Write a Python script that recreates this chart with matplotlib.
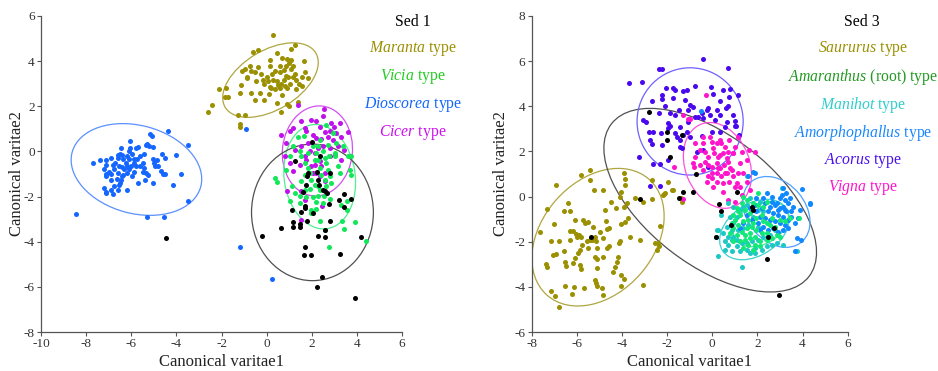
import numpy as np
import matplotlib
matplotlib.use("Agg")
import matplotlib.pyplot as plt
from matplotlib.patches import Ellipse

plt.rcParams['font.family'] = ['Liberation Serif', 'DejaVu Serif']
plt.rcParams['mathtext.fontset'] = 'custom'
plt.rcParams['mathtext.it'] = 'Liberation Serif:italic'
plt.rcParams['mathtext.rm'] = 'Liberation Serif'
plt.rcParams['axes.unicode_minus'] = False

# ---------------- Sed 1 data ----------------
maranta_pts = [(0.28,5.15),(-2.6,1.75),(-2.4,2.05),(-2.1,2.75),(-1.85,2.4),(-1.7,2.4),(-1.8,2.8),(-1.25,1.6),
 (-1.2,1.2),(-1.2,1.1),(-0.95,1.6),(-1.2,2.6),(-1.15,2.95),(-1.1,3.55),(-0.95,3.65),(-0.85,3.25),(-0.75,3.8),
 (-0.6,4.4),(-0.4,4.5),(-0.5,3.5),(-0.45,3.1),(-0.7,2.6),(-0.5,2.3),(-0.3,2.6),(-0.1,2.3),(0,3.3),(-0.15,3.15),
 (-0.1,3.0),(0.05,3.1),(0.15,2.85),(0.15,3.8),(0.2,2.8),(0.25,3.45),(0.35,3.55),(0.45,4.35),(0.45,3.1),(0.5,2.95),
 (0.45,2.15),(0.6,3.5),(0.6,2.8),(0.65,3.0),(0.7,4.15),(0.75,3.6),(0.8,2.9),(0.85,3.8),(0.9,2.1),(0.9,2.8),
 (0.95,3.3),(1.0,3.9),(1.05,3.0),(1.1,4.55),(1.1,3.65),(1.15,3.8),(1.25,4.7),(1.25,3.45),(1.3,3.15),(1.3,2.75),
 (1.4,2.2),(1.0,2.0),(0.65,1.75),(1.45,3.0),(1.55,3.3),(1.65,4.0),(1.7,3.5),(1.85,3.25),(1.55,2.9),(0.6,3.8),
 (0.85,3.35),(0.35,2.75),(0.1,2.55),(-0.25,3.45),(-0.4,3.75),(-0.7,3.55),(-0.85,3.3),(0.15,4.05),(0.3,3.15),
 (0.75,3.15),(0.9,4.1),(1.1,4.05),(0.7,2.5),(1.15,3.3)]

dioscorea_pts = [(-7.7,-0.5),(-7.4,-0.4),(-7.1,-0.4),(-6.9,-0.3),(-7.1,-0.6),(-7.2,-0.8),(-7.1,-1.0),(-7.1,-1.1),
 (-7.0,-0.9),(-6.9,-1.0),(-6.8,-0.6),(-6.7,-0.5),(-6.6,-0.15),(-6.5,-0.1),(-6.45,0.15),(-6.4,-0.15),(-6.35,-0.35),
 (-6.25,-0.5),(-6.2,-0.2),(-6.1,0.0),(-6.05,0.45),(-6.05,0.15),(-5.95,-0.1),(-5.9,-0.35),(-6.0,-0.65),(-6.1,-0.8),
 (-6.2,-0.95),(-6.35,-1.05),(-6.45,-1.25),(-6.5,-1.4),(-6.55,-1.5),(-6.75,-1.55),(-6.8,-1.9),(-6.9,-1.7),(-7.1,-1.8),
 (-7.2,-1.6),(-7.1,-1.85),(-6.2,-1.7),(-6.6,-0.95),(-6.65,-1.2),(-6.4,-0.7),(-6.3,-0.8),(-6.2,-0.65),(-5.7,0.2),
 (-5.6,-0.2),(-5.5,-0.5),(-5.6,-0.65),(-5.45,-0.1),(-5.35,0.3),(-5.3,0.35),(-5.2,0.25),(-5.15,0.75),(-5.1,0.7),
 (-5.05,0.2),(-5.05,-0.35),(-5.0,-0.5),(-4.95,-0.65),(-4.85,-0.4),(-4.8,-0.65),(-4.7,-0.85),(-4.65,-0.1),(-4.6,-1.0),
 (-4.5,-0.3),(-4.5,-1.0),(-4.35,0.9),(-4.15,-1.5),(-4.0,-0.15),(-3.8,-1.0),(-3.5,0.3),(-3.5,-2.2),(-5.3,-2.9),
 (-4.55,-2.9),(-8.45,-2.75),(-5.7,-1.4),(-5.4,-1.25),(-5.05,-1.4),(-5.25,-1.05),(-5.5,-0.9),(-5.8,-0.65),(-5.9,-0.9),
 (-5.95,-1.1),(-5.75,-0.35),(-6.75,-0.8),(-6.9,-1.25),(-6.6,-1.7),(-6.4,-1.1),(-5.8,0.15),(-5.45,-0.75),(-5.35,-0.95),
 (-6.6,-0.3),(-6.55,-0.65),(-6.1,-0.35),(-5.9,-0.5),(-1.2,-4.25),(0.25,-5.65),(-0.9,1.0)]

cicer_pts = [(1.4,2.05),(2.54,1.89),(1.53,1.33),(1.68,1.03),(0.65,0.74),(1.17,1.03),(2.17,1.33),(2.35,1.1),(2.49,1.55),
 (2.57,0.84),(2.86,1.25),(2.98,1.06),(3.08,0.81),(3.28,0.66),(3.6,0.88),(2.05,0.74),(2.2,0.59),(2.42,0.55),(2.72,0.66),
 (1.83,0.37),(1.53,0.22),(0.87,0.37),(1.24,0.07),(0.8,-0.22),(1.02,-0.52),(1.17,-0.88),(1.46,-0.59),(1.68,-0.22),
 (1.9,0.0),(2.13,-0.07),(2.27,0.15),(2.49,0.22),(2.79,0.15),(3.16,0.22),(3.45,0.07),(3.68,-0.22),(3.01,-0.15),
 (3.31,-0.37),(2.35,-0.44),(2.13,-0.59),(2.42,-0.66),(1.95,-0.66),(2.2,-0.96),(2.57,-0.96),(2.79,-0.22),(1.53,-1.77),
 (0.9,-1.77),(1.68,-2.14),(2.47,-2.43),(1.53,-3.02),(1.76,-0.37),(2.05,-0.96),(2.57,-1.33),(2.35,-1.1),(2.79,0.89),
 (2.94,0.52),(1.98,1.4),(1.76,0.89),(3.23,1.25),(1.02,0.89)]

vicia_pts = [(1.12,-1.55),(1.68,-1.7),(1.9,-1.65),(2.27,-1.55),(2.64,-1.55),(1.46,-1.99),(1.76,-2.04),(2.05,-2.04),
 (2.27,-1.99),(2.54,-1.99),(2.82,-2.1),(2.2,-2.24),(2.49,-2.29),(3.57,-2.21),(3.31,-2.36),(3.56,-2.58),(2.17,-2.54),
 (1.95,-2.73),(2.35,-3.1),(3.35,-3.1),(3.9,-3.14),(2.6,-3.47),(3.45,-3.42),(2.76,-4.22),(4.42,-3.99),(0.35,-1.18),
 (0.46,-1.37),(0.87,-0.81),(1.02,-0.22),(1.17,0.22),(1.39,0.66),(1.64,0.69),(1.46,0.0),(1.53,-0.22),(1.68,-0.52),
 (1.83,-0.74),(1.9,-0.96),(1.98,-1.25),(2.13,-0.37),(2.2,-0.07),(2.27,0.22),(2.35,0.52),(2.49,0.0),(2.57,-0.29),
 (2.64,-0.52),(2.72,-0.81),(2.79,-1.1),(2.86,-1.4),(2.64,1.18),(2.94,0.81),(3.08,0.37),(3.01,-0.22),(3.16,-0.66),
 (3.23,-0.96),(3.38,0.22),(3.6,-0.22),(3.75,-0.22),(3.75,-1.03),(3.68,-0.81),(1.68,-1.03),(1.53,-1.33),(2.35,-0.74),
 (2.42,-1.03),(2.57,-1.25),(2.13,-1.48),(2.35,-1.7),(1.46,-2.29),(1.98,-2.58),(1.02,-2.21),(1.24,-1.84),(3.05,-0.07),
 (2.72,0.29),(2.05,0.22),(1.83,-0.07),(2.27,-0.37),(2.76,-0.22)]

unknown1_pts = [(1.76,-1.48),(1.61,-1.8),(2.57,-1.77),(2.69,-1.84),(3.19,-2.14),(3.45,-1.89),(3.72,-2.11),(3.42,-2.48),
 (1.12,-2.61),(1.53,-2.7),(1.68,-2.43),(1.68,-2.51),(2.05,-2.74),(2.75,-2.33),(2.83,-3.1),(2.6,-3.5),(1.17,-3.14),
 (1.17,-3.33),(1.46,-3.22),(1.46,-3.33),(1.8,-3.08),(0.65,-3.39),(-0.19,-3.76),(2.27,-3.76),(2.6,-3.81),(4.16,-3.81),
 (1.68,-4.25),(1.64,-4.59),(1.95,-4.6),(3.23,-4.53),(2.45,-5.56),(2.23,-6.02),(3.9,-6.51),(1.24,-0.44),(2.01,0.4),
 (1.83,-0.96),(1.79,-1.1),(2.24,-0.91),(2.27,-1.25),(2.32,-1.48),(2.49,-1.73),(2.79,-0.96),(2.35,-0.22),(-4.47,-3.82)]

# ellipses: (cx, cy, width, height, angle)
sed1_ellipses = {
    'maranta': (0.17, 3.16, 4.68, 2.63, 31),
    'dioscorea': (-5.77, -0.8, 5.9, 3.9, -15),
    'cicer': (2.25, 0.02, 3.1, 4.0, -6),
    'vicia': (2.35, -1.12, 3.15, 4.65, 8),
    'unknown': (2.03, -2.7, 5.4, 6.05, 0),
}

# ---------------- Sed 3 data ----------------
saururus_pts = [(-6.93,0.52),(-5.82,0.96),(-5.42,1.18),(-5.42,0.74),(-4.83,0.3),(-5.24,0.3),(-3.91,1.03),(-3.87,0.77),
 (-3.87,0.52),(-4.02,0.22),(-7.34,-0.56),(-6.56,-0.62),(-6.39,-0.3),(-6.31,-0.62),(-7.0,-1.21),(-7.64,-1.55),
 (-7.16,-1.96),(-6.78,-1.99),(-7.07,-2.58),(-6.9,-2.55),(-7.37,-2.98),(-7.31,-3.13),(-7.16,-4.2),(-6.97,-4.4),
 (-6.78,-4.87),(-6.57,-2.39),(-6.53,-2.88),(-6.49,-3.07),(-6.31,-1.92),(-6.28,-1.52),(-6.16,-1.52),(-6.04,-1.67),
 (-6.01,-1.8),(-5.89,-1.7),(-5.83,-1.8),(-6.08,-1.03),(-5.71,-1.03),(-5.64,-1.18),(-5.49,-1.11),(-5.79,-2.14),
 (-5.86,-2.36),(-5.94,-2.51),(-6.08,-2.73),(-6.16,-2.95),(-5.86,-3.02),(-5.82,-3.22),(-5.49,-2.29),(-5.57,-1.99),
 (-5.42,-1.92),(-5.32,-1.92),(-5.2,-1.77),(-5.3,-1.33),(-4.98,-1.59),(-4.83,-1.84),(-5.15,-1.99),(-5.12,-2.29),
 (-5.2,-2.66),(-5.12,-2.77),(-4.86,-2.66),(-5.09,-3.17),(-5.2,-3.69),(-5.15,-3.81),(-5.12,-3.98),(-4.9,-4.03),
 (-4.83,-4.35),(-5.69,-4.03),(-6.11,-4.01),(-6.51,-3.98),(-6.23,-4.32),(-4.71,-1.08),(-4.65,-1.45),(-4.56,-1.4),
 (-4.5,-0.22),(-4.75,-0.59),(-4.27,-0.52),(-4.09,-0.04),(-3.79,-0.3),(-3.91,-0.44),(-3.72,-0.96),(-3.87,-1.11),
 (-4.05,-1.21),(-3.65,-1.77),(-4.09,-1.99),(-4.12,-2.07),(-4.56,-2.18),(-4.68,-2.29),(-4.19,-2.69),(-4.2,-2.91),
 (-4.31,-3.13),(-4.39,-3.32),(-4.02,-3.47),(-3.9,-3.64),(-4.02,-3.98),(-3.06,-3.91),(-3.2,-1.92),(-3.43,-0.07),
 (-3.06,-0.22),(-2.69,-0.12),(-2.32,-1.3),(-2.54,-2.07),(-2.44,-2.36),(-2.17,0.07),(-2.1,0.18),(-1.8,0.3),
 (-2.69,0.74),(-2.13,0.1),(-1.95,0.66),(-1.76,0.3),(-1.36,-0.22),(-1.39,-0.07),(-2.42,-2.07),(-2.35,-2.21)]

acorus_pts = [(-3.68,5.05),(-3.1,5.09),(-2.35,5.65),(-2.24,5.63),(-0.43,6.08),(0.71,5.71),(-2.69,4.25),(-2.24,4.5),
 (-2.22,4.32),(-2.05,4.79),(-1.73,4.79),(-1.65,4.72),(-1.31,4.69),(-1.14,4.72),(-0.75,4.9),(-0.07,4.87),(0.04,4.54),
 (0.49,4.72),(0.78,4.75),(1.15,4.5),(0.75,4.43),(0.34,4.25),(0.71,4.01),(-1.73,4.35),(-2.1,4.01),(-1.21,4.28),
 (-0.99,4.06),(-1.06,3.84),(-0.84,3.98),(-1.46,3.84),(-1.65,3.61),(-1.88,3.69),(-2.35,3.69),(-3.06,3.39),(-2.94,3.32),
 (-2.81,2.88),(-2.64,2.85),(-2.76,2.51),(-2.29,2.8),(-1.95,3.27),(-1.88,3.13),(-1.95,3.02),(-1.65,2.8),(-1.58,2.66),
 (-1.28,2.73),(-1.14,2.88),(-0.99,2.66),(-1.43,2.51),(-1.43,3.1),(-0.62,3.54),(-0.47,3.69),(-0.4,3.47),(-0.25,3.84),
 (-0.1,3.61),(-0.18,3.91),(0.19,3.84),(0.34,3.61),(0.12,3.39),(0.64,3.32),(0.93,3.61),(1.0,3.36),(0.56,3.1),
 (0.34,2.88),(-0.03,2.88),(-0.44,2.68),(1.0,3.13),(1.05,3.14),(1.2,2.73),(0.61,3.91),(-1.06,3.32),(-0.77,3.54),
 (-1.43,2.21),(-1.36,2.14),(-2.24,2.29),(-2.69,2.33),(-3.25,1.77),(-2.64,1.43),(-2.32,1.43),(-1.95,1.62),(-0.69,1.99),
 (-0.4,2.07),(-2.76,0.47),(-2.32,0.47),(-0.18,1.33)]

vigna_pts = [(-0.28,4.5),(-1.28,3.61),(-1.06,3.42),(-0.43,2.66),(-0.77,2.36),(-0.1,2.66),(-0.03,2.43),(0.19,2.36),
 (0.34,2.51),(0.41,2.36),(0.56,2.21),(0.75,2.51),(1.0,2.21),(1.15,2.63),(0.93,1.92),(0.71,1.99),(0.49,1.92),
 (0.27,1.77),(0.09,1.92),(-0.18,1.77),(-0.32,1.99),(-0.55,2.07),(-0.77,1.77),(-0.84,1.48),(-0.81,1.33),(-0.55,1.4),
 (-0.32,1.55),(-0.18,1.4),(0.01,1.33),(0.19,1.48),(0.34,1.25),(0.52,1.4),(0.71,1.55),(0.78,1.25),(0.64,1.03),
 (0.41,0.89),(0.19,1.03),(-0.03,0.81),(-0.18,0.89),(-0.4,1.18),(0.22,0.66),(0.49,0.59),(0.75,0.66),(0.93,0.89),
 (1.08,0.59),(1.23,0.44),(1.37,1.03),(1.52,1.62),(1.34,1.99),(1.64,2.07),(1.89,1.99),(-1.7,1.33),(-0.99,3.42),
 (1.15,1.03),(-0.4,2.36),(0.04,2.14),(0.34,1.84),(0.64,1.7),(0.93,1.92),(1.23,1.48),(0.86,1.18),(0.56,1.03),
 (0.27,1.25),(-0.03,1.03),(-0.25,0.66),(0.04,0.44),(0.49,0.22),(1.0,0.44),(1.3,0.07),(1.52,0.66),(1.67,0.3),
 (0.71,-0.15),(1.0,-0.22),(-1.28,-0.12)]

manihot_pts = [(0.27,-1.48),(0.16,-1.8),(0.49,-1.62),(0.56,-1.99),(0.71,-2.14),(0.56,-2.36),(0.27,-2.63),(0.86,-2.43),
 (1.08,-2.21),(1.23,-2.43),(1.52,-2.36),(1.67,-2.51),(1.89,-2.51),(2.19,-2.36),(2.41,-2.21),(2.63,-2.14),(2.85,-2.07),
 (3.15,-2.14),(3.74,-2.43),(1.3,-3.1),(0.86,-1.92),(1.08,-1.92),(1.3,-2.07),(0.93,-1.77),(0.71,-1.77),(0.86,-1.48),
 (0.64,-1.33),(0.93,-1.18),(0.78,-0.89),(1.08,-0.89),(1.23,-0.59),(0.93,-0.44),(0.71,-0.3),(1.37,-0.44),(1.52,-0.37),
 (1.67,-0.07),(2.11,-0.22),(2.26,-0.66),(2.04,-0.59),(1.82,-0.89),(1.6,-1.25),(1.37,-1.4),(1.15,-1.48),(2.04,-1.33),
 (2.26,-1.77),(2.04,-1.92),(1.74,-1.99),(1.52,-2.07),(2.56,-1.7),(2.78,-1.48),(3.1,0.37),(1.89,-2.29),(0.41,-0.81),
 (0.22,-1.5),(1.55,0.91)]

amorph_pts = [(1.82,1.1),(3.15,0.37),(3.96,0.32),(4.33,-0.3),(3.81,-0.96),(3.74,-1.84),(3.93,-1.92),(2.41,0.15),
 (2.63,0.0),(3.0,-0.07),(3.22,-0.15),(3.37,-0.3),(3.45,-0.07),(3.59,-0.44),(3.51,-0.66),(3.29,-0.66),(3.15,-0.44),
 (3.0,-0.52),(2.78,-0.37),(2.56,-0.44),(2.33,-0.3),(2.19,-0.52),(2.48,-0.66),(2.7,-0.74),(2.93,-0.81),(3.15,-0.89),
 (3.37,-1.03),(3.22,-1.25),(3.0,-1.18),(2.78,-1.1),(2.56,-1.03),(2.33,-0.96),(2.11,-0.89),(1.96,-0.66),(1.89,-0.37),
 (1.67,-0.52),(1.52,-0.81),(1.74,-1.03),(2.04,-1.18),(2.26,-1.33),(2.48,-1.48),(2.7,-1.4),(2.93,-1.55),(3.15,-1.48),
 (3.37,-1.4),(2.85,-0.3),(3.07,0.07),(3.29,0.15),(3.51,-0.89),(3.66,-1.18),(2.48,-1.77),(2.11,-1.48),(1.37,-1.18),
 (1.23,-1.4),(1.96,-0.07),(2.26,-0.07),(2.63,-0.22),(2.93,-0.59),(3.22,-0.59),(3.88,-0.59),(4.33,-0.32),(3.66,-2.43),
 (1.89,1.06),(1.6,0.89),(-0.5,3.8)]

amaranthus_pts = [(2.04,0.15),(1.82,-0.3),(1.52,-0.15),(1.3,-0.3),(1.08,-0.52),(0.93,-0.81),(1.23,-0.81),(1.45,-0.59),
 (1.67,-0.74),(1.6,-1.03),(1.37,-1.1),(1.15,-1.25),(0.93,-1.4),(0.78,-1.62),(1.08,-1.7),(1.3,-1.55),(1.52,-1.4),
 (1.74,-1.33),(1.96,-1.48),(2.19,-1.62),(1.89,-1.77),(1.67,-1.84),(1.45,-1.92),(1.23,-1.99),(1.6,-2.14),(1.89,-2.14),
 (2.11,-1.99),(2.41,-1.92),(2.63,-1.84),(2.85,-1.7),(3.0,-1.77),(2.41,-1.62),(2.41,-1.18),(2.26,-1.1),(1.96,-0.96),
 (1.82,-1.18),(2.56,-1.25),(2.19,-0.81),(2.26,-0.44),(2.41,-0.22),(1.37,0.0),(2.04,-0.37),(1.74,-0.52),(2.63,-0.96),
 (2.78,-1.33),(3.0,-1.03),(3.22,-1.1),(1.67,-1.62),(1.45,-1.7),(1.0,-1.03),(1.15,-0.66),(0.86,-1.18),(2.11,-2.21),
 (1.82,-2.36),(1.37,-2.29),(0.93,-1.99),(3.44,-0.96),(3.85,-0.95)]

unknown3_pts = [(-2.81,3.75),(-1.99,2.88),(-2.02,2.51),(-1.88,1.77),(-1.36,2.73),(-0.74,1.0),(-1.28,0.22),(-1.46,-0.07),
 (-0.84,0.19),(-3.18,-0.1),(-5.39,-1.8),(0.32,-0.35),(0.37,-0.62),(0.16,-1.8),(0.83,-1.28),(1.08,0.19),(1.77,-0.47),
 (1.82,-0.59),(2.48,-1.8),(2.41,-2.77),(2.97,-4.37),(2.73,-1.4)]

sed3_ellipses = {
    'saururus': (-5.06, -1.8, 6.84, 4.97, 48.7),
    'unknown': (-0.09, -0.16, 11.06, 5.71, -37.7),
    'acorus': (-0.98, 3.33, 4.7, 4.75, 0),
    'vigna': (0.23, 1.38, 3.93, 2.85, -68.3),
    'amorph': (2.84, -0.68, 3.48, 2.58, -50),
    'manihot': (1.87, -1.46, 3.39, 2.28, 34),
    'amaranthus': (2.15, -1.22, 2.62, 1.77, 29),
}

sed1_labels = [r'$\it{Maranta}$ type', r'$\it{Vicia}$ type', r'$\it{Dioscorea}$ type', r'$\it{Cicer}$ type']
sed3_labels = [r'$\it{Saururus}$ type', r'$\it{Amaranthus}$ (root) type', r'$\it{Manihot}$ type',
               r'$\it{Amorphophallus}$ type', r'$\it{Acorus}$ type', r'$\it{Vigna}$ type']

# ---------------- styling ----------------
C_OLIVE = '#9a9000'
C_VICIA = '#10e858'
C_DIOS = '#1466ff'
C_CICER = '#c010ec'
C_MANI = '#1cc8c4'
C_AMOR = '#1088ff'
C_AMAR = '#10e878'
C_ACOR = '#4a08ee'
C_VIGN = '#ff14cc'

fig = plt.figure(figsize=(9.38, 3.71), dpi=100)
axL = fig.add_axes([0.0437, 0.1051, 0.3849, 0.8518])
axR = fig.add_axes([0.5668, 0.1051, 0.3369, 0.8518])

S = 13

def scatter(ax, pts, color):
    a = np.array(pts)
    ax.scatter(a[:, 0], a[:, 1], s=S, c=color, linewidths=0, zorder=3)

def ell(ax, p, color):
    cx, cy, w, h, ang = p
    ax.add_patch(Ellipse((cx, cy), w, h, angle=ang, fill=False, edgecolor=color, lw=0.9, zorder=2))

# left panel
scatter(axL, maranta_pts, C_OLIVE)
scatter(axL, dioscorea_pts, C_DIOS)
scatter(axL, cicer_pts, C_CICER)
scatter(axL, vicia_pts, C_VICIA)
scatter(axL, unknown1_pts, 'black')
ell(axL, sed1_ellipses['maranta'], '#b0a640')
ell(axL, sed1_ellipses['dioscorea'], '#5a90ff')
ell(axL, sed1_ellipses['cicer'], '#d050f0')
ell(axL, sed1_ellipses['vicia'], '#50f090')
ell(axL, sed1_ellipses['unknown'], '#505050')

# right panel
scatter(axR, saururus_pts, C_OLIVE)
scatter(axR, acorus_pts, C_ACOR)
scatter(axR, vigna_pts, C_VIGN)
scatter(axR, manihot_pts, C_MANI)
scatter(axR, amorph_pts, C_AMOR)
scatter(axR, amaranthus_pts, C_AMAR)
scatter(axR, unknown3_pts, 'black')
ell(axR, sed3_ellipses['saururus'], '#b0a640')
ell(axR, sed3_ellipses['unknown'], '#505050')
ell(axR, sed3_ellipses['acorus'], '#7060ff')
ell(axR, sed3_ellipses['vigna'], '#ff50d8')
ell(axR, sed3_ellipses['amorph'], '#50a0ff')
ell(axR, sed3_ellipses['manihot'], '#40d0d0')
ell(axR, sed3_ellipses['amaranthus'], '#40e890')

for ax, xl, yl, ypad in [(axL, (-10, 6), (-8, 6), -1.0), (axR, (-8, 6), (-6, 8), 4)]:
    ax.set_xlim(*xl)
    ax.set_ylim(*yl)
    ax.set_xticks(np.arange(xl[0], xl[1] + 1, 2))
    ax.set_yticks(np.arange(yl[0], yl[1] + 1, 2))
    for sp in ['top', 'right']:
        ax.spines[sp].set_visible(False)
    for sp in ['left', 'bottom']:
        ax.spines[sp].set_color('#555555')
        ax.spines[sp].set_linewidth(0.9)
    ax.tick_params(direction='out', length=3, width=0.8, colors='#555555',
                   labelcolor='#333333', labelsize=9.5, pad=1.5)
    ax.set_xlabel('Canonical varitae1', fontsize=12, color='#222222', labelpad=2.5)
    ax.set_ylabel('Canonical varitae2', fontsize=12, color='#222222', labelpad=ypad)

# legends / titles as text
FS = 11.3
fig.text(413 / 938, 1 - 22 / 371, 'Sed 1', ha='center', va='center', fontsize=FS, color='black')
for lab, col, ypx in zip(sed1_labels, ['#9a9000', '#22cc22', '#1466ff', '#cc10ee'], [49, 77, 105, 133]):
    fig.text(413 / 938, 1 - ypx / 371, lab, ha='center', va='center', fontsize=FS, color=col)

fig.text(862 / 938, 1 - 22 / 371, 'Sed 3', ha='center', va='center', fontsize=FS, color='black')
for lab, col, ypx in zip(sed3_labels, ['#9a9000', '#229a22', '#30cccc', '#1a88ff', '#4a10ee', '#ff14cc'],
                         [49, 77, 105, 133, 160, 188]):
    fig.text(863 / 938, 1 - ypx / 371, lab, ha='center', va='center', fontsize=FS, color=col)

fig.savefig('out.png', dpi=100)
